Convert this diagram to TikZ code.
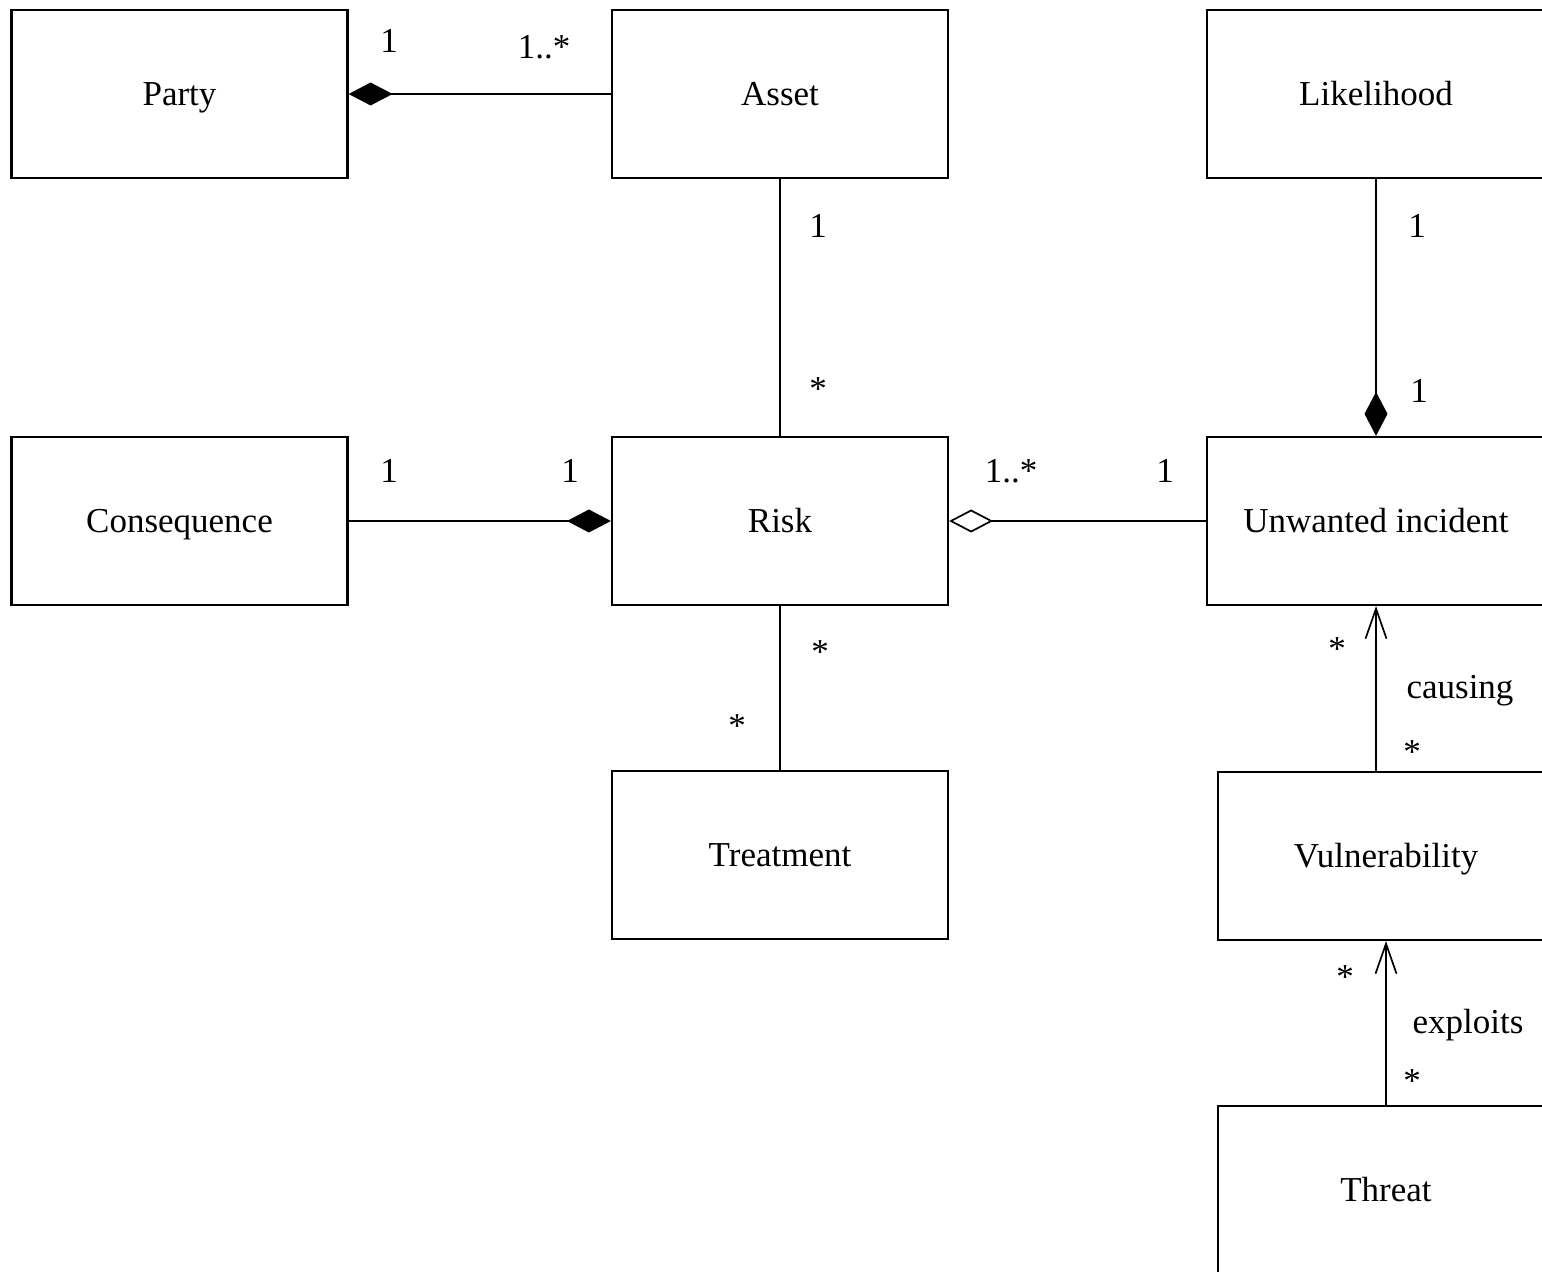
\documentclass[tikz,border=0pt]{standalone}
\usepackage{fontspec}
\setmainfont{Liberation Serif}
\usetikzlibrary{arrows.meta}
\begin{document}
\begin{tikzpicture}[x=0.5pt,y=-0.5pt,
  box/.style={draw,line width=1.1pt,minimum width=168pt,minimum height=84pt,inner sep=0pt,
    text height=11.5pt,text depth=0pt,font=\fontsize{17.5pt}{21pt}\selectfont},
  widebox/.style={box,minimum width=169pt},
  lab/.style={anchor=base,inner sep=0pt,font=\fontsize{17.5pt}{21pt}\selectfont},
  conn/.style={line width=0.85pt},
  comp/.style={conn,{Diamond[length=22pt,width=11.5pt]}-},
  agg/.style={conn,{Diamond[open,length=22pt,width=11.5pt]}-},
  nav/.style={conn,-{Straight Barb[length=15pt,width=10.5pt]}}]
\useasboundingbox (0,0) rectangle (1542,1272);
\clip (0,0) rectangle (1542,1272);
% boxes
\node[box] (party) at (179.5,94) {Party};
\node[box] (asset) at (780,94) {Asset};
\node[widebox] (like) at (1376,94) {Likelihood};
\node[box] (cons) at (179.5,521) {Consequence};
\node[box] (risk) at (780,521) {Risk};
\node[widebox] (unw) at (1376,521) {Unwanted incident};
\node[box] (treat) at (780,855) {Treatment};
\node[box] (vuln) at (1386,856) {Vulnerability};
\node[box] (threat) at (1386,1190) {Threat};
% connectors
\draw[comp] (party.east) -- (asset.west);
\draw[conn] (asset.south) -- (risk.north);
\draw[comp] (unw.north) -- (like.south);
\draw[comp] (risk.west) -- (cons.east);
\draw[agg] (risk.east) -- (unw.west);
\draw[conn] (risk.south) -- (treat.north);
\draw[nav] (vuln.north -| unw.south) -- (unw.south);
\draw[nav] (threat.north) -- (vuln.south);
% labels
\node[lab] (m1) at (389,53) {1};
\node[lab] (m2) at (544,59) {1..*};
\node[lab] (m3) at (818,238) {1};
\node[lab] (m4) at (818,400.5) {*};
\node[lab] (m5) at (1417,238) {1};
\node[lab] (m6) at (1419,403) {1};
\node[lab] (m7) at (389,483) {1};
\node[lab] (m8) at (570,483) {1};
\node[lab] (m9) at (1011,483) {1..*};
\node[lab] (m10) at (1165,483) {1};
\node[lab] (m11) at (820,663.5) {*};
\node[lab] (m12) at (737,737.5) {*};
\node[lab] (m13) at (1337,660.5) {*};
\node[lab] (m14) at (1460,698) {causing};
\node[lab] (m15) at (1412,763.5) {*};
\node[lab] (m16) at (1345,988.5) {*};
\node[lab] (m17) at (1468,1033) {exploits};
\node[lab] (m18) at (1412,1092.5) {*};
\end{tikzpicture}
\end{document}
